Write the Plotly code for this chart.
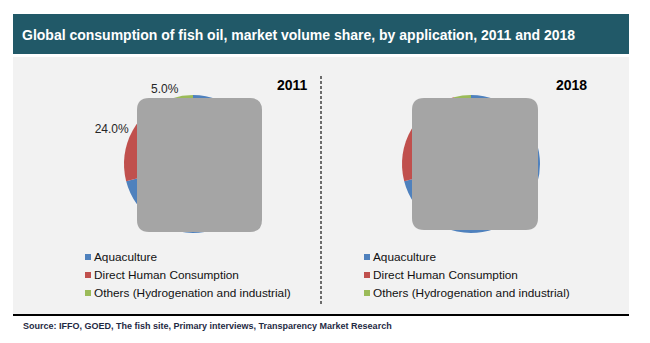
import plotly.graph_objects as go

# ---- data ----
categories = ["Aquaculture", "Direct Human Consumption", "Others (Hydrogenation and industrial)"]
share_2011 = [71.0, 24.0, 5.0]
share_2018 = [71.0, 25.0, 4.0]
colors = ["#4F81BD", "#C0504D", "#9BBB59"]
years = ["2011", "2018"]
title_text = "Global consumption of fish oil, market volume share, by application, 2011 and 2018"
source_text = "Source: IFFO, GOED, The fish site, Primary interviews, Transparency Market Research"

W, H = 650, 343
FONT = "Liberation Sans, Arial, sans-serif"


def fx(x):
    return x / W


def fy(y):
    return 1 - y / H


def rrect(x0, y0, x1, y1, r):
    # rounded rectangle path in paper coords from pixel coords
    pts = (
        f"M{fx(x0 + r)},{fy(y0)} L{fx(x1 - r)},{fy(y0)} Q{fx(x1)},{fy(y0)} {fx(x1)},{fy(y0 + r)} "
        f"L{fx(x1)},{fy(y1 - r)} Q{fx(x1)},{fy(y1)} {fx(x1 - r)},{fy(y1)} "
        f"L{fx(x0 + r)},{fy(y1)} Q{fx(x0)},{fy(y1)} {fx(x0)},{fy(y1 - r)} "
        f"L{fx(x0)},{fy(y0 + r)} Q{fx(x0)},{fy(y0)} {fx(x0 + r)},{fy(y0)} Z"
    )
    return pts


fig = go.Figure()

pie_centers = [(193, 164), (471, 164)]
R = 69
for i, (vals, (cx, cy)) in enumerate(zip([share_2011, share_2018], pie_centers)):
    if i == 0:
        tmpl = ["", "%{percent:.1%}", "%{percent:.1%}"]
    else:
        tmpl = ["", "", ""]
    fig.add_trace(go.Pie(
        labels=categories, values=vals,
        marker=dict(colors=colors, line=dict(width=0)),
        sort=False, direction="clockwise", rotation=0,
        domain=dict(x=[fx(cx - R), fx(cx + R)], y=[fy(cy + R), fy(cy - R)]),
        texttemplate=tmpl, textposition="outside",
        textfont=dict(family=FONT, size=12, color="#262626"),
        showlegend=False, hoverinfo="label+percent",
    ))

shapes = []
# panel background
shapes.append(dict(type="rect", xref="paper", yref="paper", x0=fx(13), x1=fx(629), y0=fy(315), y1=fy(57),
                   fillcolor="#F2F2F2", line=dict(width=0), layer="below"))
# title bar
shapes.append(dict(type="rect", xref="paper", yref="paper", x0=fx(13), x1=fx(629), y0=fy(54), y1=fy(14),
                   fillcolor="#215968", line=dict(width=0), layer="below"))
# bottom black rule
shapes.append(dict(type="line", xref="paper", yref="paper", x0=fx(13), x1=fx(629), y0=fy(315), y1=fy(315),
                   line=dict(color="#000000", width=2)))
# dashed divider
shapes.append(dict(type="line", xref="paper", yref="paper", x0=fx(321), x1=fx(321), y0=fy(76), y1=fy(305),
                   line=dict(color="#404040", width=1.5, dash="3px,2px")))
# grey overlay boxes
shapes.append(dict(type="path", xref="paper", yref="paper", path=rrect(137, 98, 262, 232, 12),
                   fillcolor="#A5A5A5", line=dict(width=0), layer="above"))
shapes.append(dict(type="path", xref="paper", yref="paper", path=rrect(412, 98, 538, 230, 12),
                   fillcolor="#A5A5A5", line=dict(width=0), layer="above"))

annotations = []
annotations.append(dict(text=f"<b>{title_text}</b>", x=fx(20), y=fy(35), xref="paper", yref="paper",
                        xanchor="left", yanchor="middle", showarrow=False,
                        font=dict(family=FONT, size=14, color="#FFFFFF")))
annotations.append(dict(text=f"<b>{source_text}</b>", x=fx(21), y=fy(326), xref="paper", yref="paper",
                        xanchor="left", yanchor="middle", showarrow=False,
                        font=dict(family=FONT, size=9, color="#1F2A44")))
year_pos = [(310, 85), (589, 85)]
for yr, (x, y) in zip(years, year_pos):
    annotations.append(dict(text=f"<b>{yr}</b>", x=fx(x), y=fy(y), xref="paper", yref="paper",
                            xanchor="right", yanchor="middle", showarrow=False,
                            font=dict(family=FONT, size=14, color="#000000")))

legend_x = [85, 364]
rows_y = [257, 275, 293]
for lx in legend_x:
    for cat, col, ry in zip(categories, colors, rows_y):
        shapes.append(dict(type="rect", xref="paper", yref="paper", x0=fx(lx), x1=fx(lx + 6),
                           y0=fy(ry + 3), y1=fy(ry - 3), fillcolor=col, line=dict(width=0)))
        annotations.append(dict(text=cat, x=fx(lx + 7), y=fy(ry), xref="paper", yref="paper",
                                xanchor="left", yanchor="middle", showarrow=False,
                                font=dict(family=FONT, size=11.8, color="#111111")))

fig.update_layout(
    width=W, height=H, margin=dict(l=0, r=0, t=0, b=0),
    paper_bgcolor="#FFFFFF", plot_bgcolor="#FFFFFF",
    shapes=shapes, annotations=annotations,
)

fig.write_html("out.html")
